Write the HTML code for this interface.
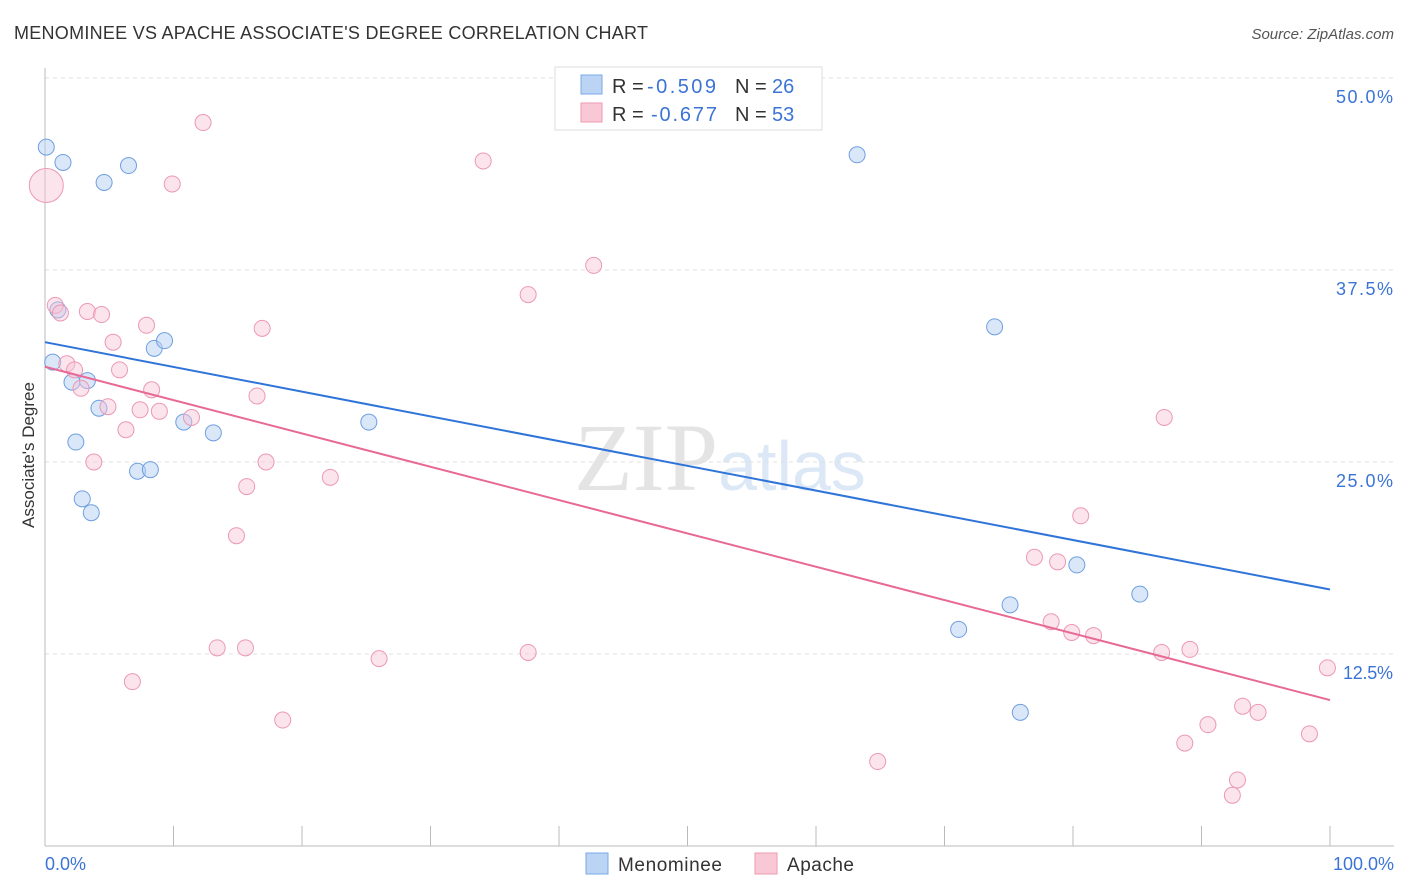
<!DOCTYPE html>
<html><head><meta charset="utf-8"><style>
body{margin:0;background:#fff;font-family:"Liberation Sans",sans-serif}
svg{display:block}
</style></head><body>
<svg id="chart" width="1406" height="892">
<text x="14" y="39" font-size="18" fill="#333" textLength="634">MENOMINEE VS APACHE ASSOCIATE'S DEGREE CORRELATION CHART</text>
<text x="1394" y="39" font-size="15" fill="#555" text-anchor="end" font-style="italic">Source: ZipAtlas.com</text>
<text x="720" y="490" font-size="96" fill="#e4e4e4" text-anchor="middle" font-family="Liberation Serif,serif">ZIP<tspan fill="#dce8f6" font-family="Liberation Sans,sans-serif" font-size="70">atlas</tspan></text>
<g id="grid"></g>
<g id="axes"></g>
<g id="pts"></g>
<g id="lines"></g>
<text transform="translate(34,455) rotate(-90)" font-size="17" fill="#333" text-anchor="middle">Associate's Degree</text>
<g>
<rect x="555" y="67" width="267" height="63" fill="#fff" stroke="#ddd"/>
<rect x="581" y="75" width="21" height="19" fill="#bcd4f4" stroke="#7aa8e8"/>
<rect x="581" y="103" width="21" height="19" fill="#f9c8d6" stroke="#ee9ab3"/>
<text x="612" y="93" font-size="20" fill="#333">R = <tspan fill="#3b74d6" x="647" textLength="69">-0.509</tspan><tspan x="735">N = </tspan><tspan fill="#3b74d6" x="772">26</tspan></text>
<text x="612" y="121" font-size="20" fill="#333">R = <tspan fill="#3b74d6" x="651" textLength="66">-0.677</tspan><tspan x="735">N = </tspan><tspan fill="#3b74d6" x="772">53</tspan></text>
</g>
<g>
<rect x="586" y="853" width="22" height="21" fill="#bcd4f4" stroke="#7aa8e8"/>
<text x="618" y="871" font-size="19" fill="#333" textLength="104">Menominee</text>
<rect x="755" y="853" width="22" height="21" fill="#f9c8d6" stroke="#ee9ab3"/>
<text x="787" y="871" font-size="19" fill="#333" textLength="67">Apache</text>
</g>
</svg>
<script>
const blueX=[0.1,1.4,4.6,6.5,63.2,1.0,0.6,2.1,3.3,4.2,8.5,9.3,2.4,7.2,8.2,2.9,3.6,10.8,13.1,25.2,73.9,80.3,85.2,75.1,71.1,75.9];
const blueY=[45.5,44.5,43.2,44.3,45.0,34.9,31.5,30.2,30.3,28.5,32.4,32.9,26.3,24.4,24.5,22.6,21.7,27.6,26.9,27.6,33.8,18.3,16.4,15.7,14.1,8.7];
const pinkX=[0.1,12.3,9.9,34.1,42.7,37.6,0.8,1.2,3.3,4.4,7.9,16.9,5.3,1.7,2.3,5.8,2.8,8.3,16.5,4.9,7.4,8.9,11.4,6.3,3.8,17.2,22.2,15.7,14.9,87.1,80.6,77.0,78.8,78.3,79.9,81.6,86.9,89.1,13.4,15.6,26.0,37.6,6.8,18.5,99.8,93.2,94.4,90.5,88.7,98.4,64.8,92.8,92.4];
const pinkY=[43.0,47.1,43.1,44.6,37.8,35.9,35.2,34.7,34.8,34.6,33.9,33.7,32.8,31.4,31.0,31.0,29.8,29.7,29.3,28.6,28.4,28.3,27.9,27.1,25.0,25.0,24.0,23.4,20.2,27.9,21.5,18.8,18.5,14.6,13.9,13.7,12.6,12.8,12.9,12.9,12.2,12.6,10.7,8.2,11.6,9.1,8.7,7.9,6.7,7.3,5.5,4.3,3.3];
const blueTrend=[32.8,16.7];
const pinkTrend=[31.2,9.5];
const yTicks=[12.5,25,37.5,50];
const xTickVals=[0,10,20,30,40,50,60,70,80,90,100];
const NS='http://www.w3.org/2000/svg';
const sx=v=>45+v*12.85, sy=v=>846-v*15.36;
function mk(t,a,p){const e=document.createElementNS(NS,t);for(const k in a)e.setAttribute(k,a[k]);document.getElementById(p).appendChild(e);return e;}
yTicks.forEach(t=>{
 const l=mk('line',{x1:45,x2:1394,y1:sy(t),y2:sy(t),stroke:'#e0e0e0','stroke-dasharray':'4,4'},'grid');
 
 
 const tx=mk('text',{x:1393,y:sy(t)+25,'font-size':18,fill:'#3b74d6','text-anchor':'end',textLength:t>=12.5&&t<13?50:57},'grid');
 tx.textContent=t.toFixed(1)+'%';
 
 
});
let ax=mk('line',{x1:45,x2:1394,y1:846,y2:846,stroke:'#bbb'},'axes');


let ay=mk('line',{x1:45,x2:45,y1:68,y2:846,stroke:'#bbb'},'axes');


xTickVals.forEach(v=>{
 const l=mk('line',{x1:sx(v),x2:sx(v),y1:826,y2:846,stroke:'#bbb'},'axes');
 
 
});
[[0,'0.0%','start',45],[100,'100.0%','end',1394]].forEach(d=>{
 const t=mk('text',{x:d[3],y:870,'font-size':18,fill:'#3b74d6','text-anchor':d[2]},'axes');
 t.textContent=d[1];
 
 
});
blueX.forEach((x,i)=>{
 const c=mk('circle',{cx:sx(x),cy:sy(blueY[i]),r:8,fill:'rgba(180,208,244,0.5)',stroke:'#6f9fe0','stroke-width':1},'pts');
 
 
});
pinkX.forEach((x,i)=>{
 const c=mk('circle',{cx:sx(x),cy:sy(pinkY[i]),r:i==0?17:8,fill:'rgba(248,195,214,0.45)',stroke:'#ec98b4','stroke-width':1},'pts');
 
 
});
const bl=mk('line',{x1:sx(0),x2:sx(100),y1:sy(blueTrend[0]),y2:sy(blueTrend[1]),stroke:'#2f74d8','stroke-width':2},'lines');


const pl=mk('line',{x1:sx(0),x2:sx(100),y1:sy(pinkTrend[0]),y2:sy(pinkTrend[1]),stroke:'#e86896','stroke-width':2},'lines');


</script>
</body></html>
